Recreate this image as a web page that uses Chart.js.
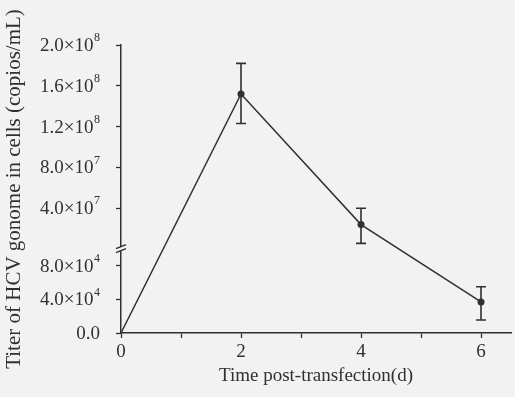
<!DOCTYPE html>
<html lang="en">
<head>
  <meta charset="UTF-8" />
  <title>HCV genome titer</title>
  <script src="https://cdn.jsdelivr.net/npm/chart.js"></script>
  <style>
    body { margin: 0; background: #f2f2f2; }
    canvas { display: block; }
  </style>
</head>
<body>
  <canvas id="grafico" width="515" height="397"></canvas>

  <script>
    // datos
    const days = [0, 2, 4, 6];
    const titer = [0, 1.52e8, 2.4e7, 3.7e4];
    const errLow = [0, 1.23e8, 5.5e6, 1.55e4];
    const errHigh = [0, 1.82e8, 4.0e7, 5.5e4];

    const xTicks = [0, 1, 2, 3, 4, 5, 6];
    const xTickLabels = ['0', '', '2', '', '4', '', '6'];
    const yTickValues = [0, 4e4, 8e4, 4e7, 8e7, 1.2e8, 1.6e8, 2e8];
    const yTickBase = ['0.0', '4.0×10', '8.0×10', '4.0×10', '8.0×10', '1.2×10', '1.6×10', '2.0×10'];
    const yTickExp = ['', '4', '4', '7', '7', '8', '8', '8'];

    // eje cortado: tramo bajo 0..1e5, tramo alto 0..2e8
    const LOW_MAX = 1e5;
    const HIGH_MAX = 2e8;
    const HIGH_SPAN = 2.43;
    function brk(v) {
      if (v <= LOW_MAX) return v / LOW_MAX;
      return 1 + v / HIGH_MAX * HIGH_SPAN;
    }

    const ink = '#303030';
    const bg = '#f2f2f2';
    const serif = 'Liberation Serif';

    const extras = {
      id: 'extras',
      afterDatasetsDraw(chart) {
        const ctx = chart.ctx;
        const xs = chart.scales.x;
        const ys = chart.scales.y;
        ctx.save();
        ctx.strokeStyle = ink;
        ctx.lineWidth = 1.6;
        // barras de error
        for (let i = 0; i < days.length; i++) {
          if (errHigh[i] === errLow[i]) continue;
          const px = xs.getPixelForValue(days[i]);
          const top = ys.getPixelForValue(brk(errHigh[i]));
          const bot = ys.getPixelForValue(brk(errLow[i]));
          ctx.beginPath();
          ctx.moveTo(px, top); ctx.lineTo(px, bot);
          ctx.moveTo(px - 5, top); ctx.lineTo(px + 5, top);
          ctx.moveTo(px - 5, bot); ctx.lineTo(px + 5, bot);
          ctx.stroke();
        }
        // marca de corte del eje y
        const ax = ys.right;
        const by = ys.getPixelForValue(1);
        ctx.fillStyle = bg;
        ctx.fillRect(ax - 2, by - 2, 4, 4);
        ctx.lineWidth = 1.4;
        ctx.beginPath();
        ctx.moveTo(ax - 5, by + 3.5); ctx.lineTo(ax + 5, by - 0.5);
        ctx.moveTo(ax - 5, by - 0.5); ctx.lineTo(ax + 5, by - 4.5);
        ctx.stroke();

        // etiquetas del eje y con exponente
        ctx.fillStyle = ink;
        ctx.textBaseline = 'middle';
        ctx.textAlign = 'right';
        const right = ax - 21;
        for (let i = 0; i < yTickValues.length; i++) {
          const py = ys.getPixelForValue(brk(yTickValues[i]));
          let x = right;
          if (yTickExp[i]) {
            ctx.font = '12px "' + serif + '"';
            ctx.fillText(yTickExp[i], x, py - 7);
            x -= ctx.measureText(yTickExp[i]).width + 0.5;
          }
          ctx.font = '19px "' + serif + '"';
          ctx.fillText(yTickBase[i], x, py + 1);
        }
        ctx.restore();
      }
    };

    const ctx = document.getElementById('grafico').getContext('2d');
    new Chart(ctx, {
      type: 'line',
      data: {
        datasets: [{
          data: days.map((d, i) => ({ x: d, y: brk(titer[i]) })),
          borderColor: ink,
          borderWidth: 1.5,
          backgroundColor: ink,
          pointRadius: [0, 3.5, 3.5, 3.5],
          pointBackgroundColor: ink,
          pointBorderWidth: 0,
          tension: 0,
          clip: false
        }]
      },
      options: {
        responsive: false,
        animation: false,
        layout: { padding: { top: 45, right: 0, left: 0, bottom: 0 } },
        plugins: {
          legend: { display: false },
          tooltip: { enabled: false }
        },
        scales: {
          x: {
            type: 'linear',
            min: 0,
            max: 6.5,
            afterBuildTicks: (s) => { s.ticks = xTicks.map(v => ({ value: v })); },
            afterFit: (s) => { s.height = 64; },
            ticks: {
              callback: (v, i) => xTickLabels[i],
              color: ink,
              padding: 3,
              maxRotation: 0,
              autoSkip: false,
              font: { family: serif, size: 19 }
            },
            grid: { drawOnChartArea: false, tickLength: 5, color: ink, tickWidth: 1.3 },
            border: { color: ink, width: 1.5 },
            title: {
              display: true,
              text: 'Time post-transfection(d)',
              color: ink,
              padding: { top: 0, bottom: 10 },
              font: { family: serif, size: 19 }
            }
          },
          y: {
            type: 'linear',
            min: 0,
            max: brk(HIGH_MAX),
            afterBuildTicks: (s) => { s.ticks = yTickValues.map(v => ({ value: brk(v) })); },
            afterFit: (s) => { s.width = 121; },
            ticks: {
              // las etiquetas se dibujan en el plugin para poner el exponente
              callback: () => '',
              autoSkip: false,
              font: { family: serif, size: 19 }
            },
            grid: { drawOnChartArea: false, tickLength: 5, color: ink, tickWidth: 1.3 },
            border: { color: ink, width: 1.5 },
            title: {
              display: true,
              text: 'Titer of HCV gonome in cells (copios/mL)',
              color: ink,
              padding: { top: 2, bottom: 0 },
              font: { family: serif, size: 21 }
            }
          }
        }
      },
      plugins: [extras]
    });
  </script>
</body>
</html>
